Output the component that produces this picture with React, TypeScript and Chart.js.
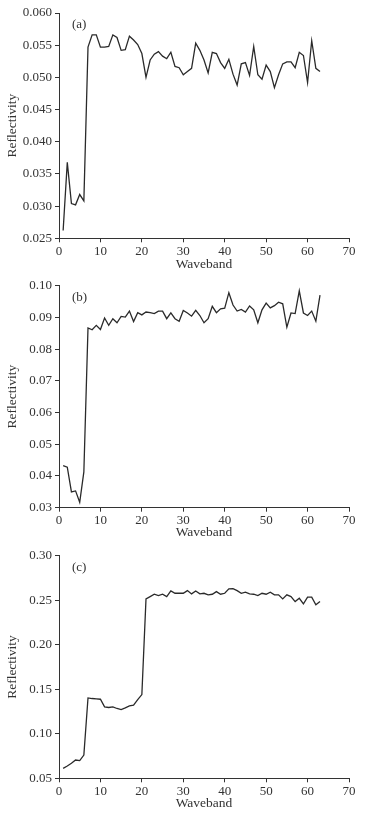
import React, { useEffect, useRef } from "react";
import { Chart, registerables } from "chart.js";

Chart.register(...registerables);

const bands = [
  1, 2, 3, 4, 5, 6, 7, 8, 9, 10, 11, 12, 13, 14, 15, 16, 17, 18, 19, 20, 21,
  22, 23, 24, 25, 26, 27, 28, 29, 30, 31, 32, 33, 34, 35, 36, 37, 38, 39, 40,
  41, 42, 43, 44, 45, 46, 47, 48, 49, 50, 51, 52, 53, 54, 55, 56, 57, 58, 59,
  60, 61, 62, 63,
];

const reflA = [
  0.0262, 0.0368, 0.0304, 0.0302, 0.0318, 0.0308, 0.0547, 0.0566, 0.0566,
  0.0547, 0.0547, 0.0548, 0.0566, 0.0562, 0.0542, 0.0543, 0.0564, 0.0558,
  0.0551, 0.0537, 0.05, 0.0527, 0.0536, 0.054, 0.0533, 0.0529, 0.0539,
  0.0517, 0.0515, 0.0504, 0.0509, 0.0514, 0.0553, 0.0542, 0.0527, 0.0507,
  0.0539, 0.0537, 0.0523, 0.0514, 0.0528, 0.0505, 0.0488, 0.0521, 0.0523,
  0.0503, 0.0548, 0.0504, 0.0497, 0.0519, 0.0509, 0.0484, 0.0504, 0.0521,
  0.0524, 0.0524, 0.0515, 0.0539, 0.0534, 0.0492, 0.0557, 0.0514, 0.0509,
];

const reflB = [
  0.0433, 0.0428, 0.035, 0.0353, 0.0317, 0.0413, 0.0867, 0.0861, 0.0875,
  0.0862, 0.0898, 0.0875, 0.0896, 0.0883, 0.0903, 0.0901, 0.092, 0.0887,
  0.0915, 0.0908, 0.0917, 0.0915, 0.0912, 0.092, 0.092, 0.0896, 0.0914,
  0.0896, 0.0888, 0.0922, 0.0914, 0.0904, 0.0922, 0.0906, 0.0883, 0.0896,
  0.0935, 0.0915, 0.0927, 0.0929, 0.0978, 0.0939, 0.092, 0.0925, 0.0917,
  0.0936, 0.0924, 0.0883, 0.0924, 0.0945, 0.093, 0.0937, 0.0948, 0.0943,
  0.0869, 0.0914, 0.0912, 0.0984, 0.0914, 0.0906, 0.092, 0.0888, 0.097,
];

const reflC = [
  0.0612, 0.0638, 0.0668, 0.0705, 0.0698, 0.0761, 0.1403, 0.1396, 0.1392,
  0.1388, 0.1302, 0.1295, 0.1302, 0.1284, 0.1272, 0.1291, 0.1313, 0.1321,
  0.1384, 0.144, 0.2515, 0.2541, 0.2567, 0.2552, 0.2567, 0.2541, 0.2604,
  0.2578, 0.2578, 0.2578, 0.2608, 0.2571, 0.2604, 0.2571, 0.2578, 0.256,
  0.2567, 0.2597, 0.2567, 0.2578, 0.2627, 0.2631, 0.2608, 0.2578, 0.259,
  0.2571, 0.2567, 0.2552, 0.2578, 0.2567, 0.259, 0.256, 0.256, 0.2515, 0.256,
  0.2541, 0.2485, 0.2522, 0.2459, 0.2534, 0.2534, 0.2448, 0.2485,
];

const xTicks = [0, 10, 20, 30, 40, 50, 60, 70];
const yTicksA = [0.025, 0.03, 0.035, 0.04, 0.045, 0.05, 0.055, 0.06];
const yTicksB = [0.03, 0.04, 0.05, 0.06, 0.07, 0.08, 0.09, 0.1];
const yTicksC = [0.05, 0.1, 0.15, 0.2, 0.25, 0.3];

const xTitle = "Waveband";
const yTitle = "Reflectivity";

const FONT = "'Liberation Serif', 'Times New Roman', serif";
const INK = "#333333";

type PanelProps = {
  top: number;
  height: number;
  plotTop: number;
  plotBottom: number;
  label: string;
  values: number[];
  yTicks: number[];
  decimals: number;
};

function Panel({ top, height, plotTop, plotBottom, label, values, yTicks, decimals }: PanelProps) {
  const ref = useRef<HTMLCanvasElement | null>(null);

  useEffect(() => {
    if (!ref.current) return;
    const tickFont = { family: FONT, size: 13 };
    const titleFont = { family: FONT, size: 13.5 };
    const xHeight = height - (plotBottom - top);

    const labelPlugin = {
      id: "panelLabel",
      afterDraw(chart: any) {
        const { ctx, chartArea } = chart;
        ctx.save();
        ctx.font = `13px ${FONT}`;
        ctx.fillStyle = INK;
        ctx.textAlign = "left";
        ctx.textBaseline = "middle";
        ctx.fillText(label, chartArea.left + 13, chartArea.top + 11.5);
        ctx.restore();
      },
    };

    const chart = new Chart(ref.current, {
      type: "line",
      data: {
        datasets: [
          {
            data: bands.map((b, i) => ({ x: b, y: values[i] })),
            borderColor: "#2a2a2a",
            borderWidth: 1.3,
            pointRadius: 0,
            tension: 0,
            fill: false,
          },
        ],
      },
      options: {
        responsive: false,
        animation: false,
        layout: { padding: { top: plotTop - top, right: 31, left: 0, bottom: 0 } },
        plugins: { legend: { display: false }, tooltip: { enabled: false } },
        scales: {
          x: {
            type: "linear",
            min: xTicks[0],
            max: xTicks[xTicks.length - 1],
            afterBuildTicks: (s: any) => {
              s.ticks = xTicks.map((v) => ({ value: v }));
            },
            afterFit: (s: any) => {
              s.height = xHeight;
              s.paddingLeft = 0;
              s.paddingRight = 0;
            },
            grid: { drawOnChartArea: false, drawTicks: true, tickLength: 4, color: INK },
            border: { color: INK, width: 1 },
            ticks: {
              font: tickFont,
              color: INK,
              padding: 1,
              maxRotation: 0,
              autoSkip: false,
              callback: (v: any) => String(v),
            },
            title: { display: true, text: xTitle, font: titleFont, color: INK, padding: 0 },
          },
          y: {
            type: "linear",
            min: yTicks[0],
            max: yTicks[yTicks.length - 1],
            afterBuildTicks: (s: any) => {
              s.ticks = yTicks.map((v) => ({ value: v }));
            },
            afterFit: (s: any) => {
              s.width = 59;
              s.paddingTop = 0;
              s.paddingBottom = 0;
            },
            grid: { drawOnChartArea: false, drawTicks: true, tickLength: 4, color: INK },
            border: { color: INK, width: 1 },
            ticks: {
              font: tickFont,
              color: INK,
              padding: 3,
              autoSkip: false,
              callback: (v: any) => Number(v).toFixed(decimals),
            },
            title: {
              display: true,
              text: yTitle,
              font: titleFont,
              color: INK,
              padding: { top: 4, bottom: 0 },
            },
          },
        },
      },
      plugins: [labelPlugin],
    } as any);

    return () => chart.destroy();
  }, [top, height, plotTop, plotBottom, label, values, yTicks, decimals]);

  return (
    <canvas
      ref={ref}
      width={380}
      height={height}
      style={{ position: "absolute", left: 0, top, width: 380, height }}
    />
  );
}

export default function App() {
  return (
    <div
      style={{
        position: "absolute",
        left: 0,
        top: 0,
        width: 380,
        height: 817,
        background: "#ffffff",
        overflow: "hidden",
      }}
    >
      <Panel top={0} height={273} plotTop={13} plotBottom={238.3} label="(a)" values={reflA} yTicks={yTicksA} decimals={3} />
      <Panel top={273} height={268} plotTop={285.7} plotBottom={507.7} label="(b)" values={reflB} yTicks={yTicksB} decimals={2} />
      <Panel top={541} height={271} plotTop={555.7} plotBottom={778.3} label="(c)" values={reflC} yTicks={yTicksC} decimals={2} />
    </div>
  );
}
